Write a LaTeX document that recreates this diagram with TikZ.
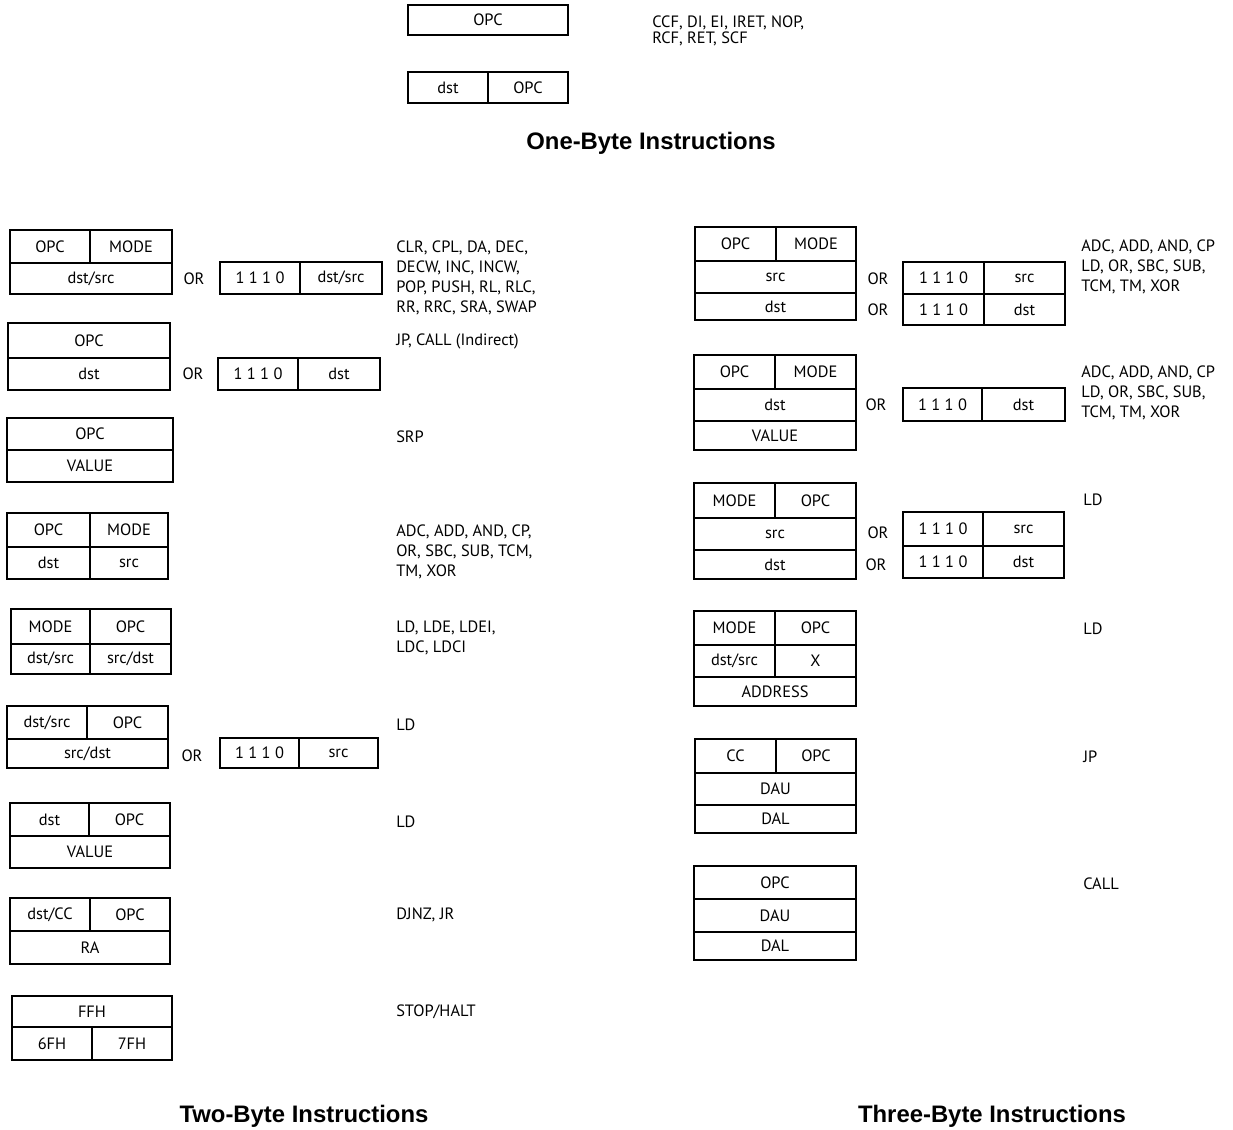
\documentclass[tikz,border=0pt]{standalone}
\usepackage{fontspec}
\setmainfont{PT Sans}
\newfontfamily\titlefont{Liberation Sans}
\newcommand\bodyfont{\fontsize{12.3}{15}\selectfont}
\newcommand\fieldbox[6]{%
  \pgfmathsetmacro\fbw{(#4-#2)*0.75}%
  \pgfmathsetmacro\fbh{(#5-#3)*0.75}%
  \node[fld,minimum width=\fbw pt,minimum height=\fbh pt] (#1) at ({(#2+#4)/2},{(#3+#5)/2}) {#6};}
\tikzset{
  fld/.style={draw, line width=1.5pt, rectangle, inner sep=0pt, outer sep=0pt, font=\bodyfont},
  lbl/.style={anchor=west, inner sep=0pt, align=left, font=\bodyfont},
  orlbl/.style={inner sep=0pt, font=\bodyfont},
  ttl/.style={inner sep=0pt, font=\titlefont\bfseries\fontsize{17.9}{20}\selectfont}
}
\begin{document}
\begin{tikzpicture}[x=0.75pt,y=-0.75pt]
\useasboundingbox (0,0) rectangle (1233,1130);
% ---------- One-byte ----------
\fieldbox{o1}{408}{5}{568}{35}{OPC}
\fieldbox{o2a}{408}{72}{488}{103}{dst}
\fieldbox{o2b}{488}{72}{568}{103}{OPC}
\node[lbl,font=\fontsize{12.3}{12}\selectfont] (to) at (652,31) {CCF, DI, EI, IRET, NOP,\\RCF, RET, SCF};
\node[ttl] (t1) at (651,143) {One-Byte Instructions};
% ---------- Two-byte ----------
\fieldbox{a1a}{10}{230}{90}{263}{OPC}
\fieldbox{a1b}{90}{230}{172}{263}{MODE}
\fieldbox{a1c}{10}{263}{172}{294}{dst/src}
\node[orlbl] (a1or) at (194,279) {OR};
\fieldbox{a1d}{220}{262}{300}{294}{1 1 1 0}
\fieldbox{a1e}{300}{262}{382}{294}{dst/src}
\node[lbl] (ta1) at (396,278) {CLR, CPL, DA, DEC,\\DECW, INC, INCW,\\POP, PUSH, RL, RLC,\\RR, RRC, SRA, SWAP};

\fieldbox{a2a}{8}{323}{170}{358}{OPC}
\fieldbox{a2b}{8}{358}{170}{390}{dst}
\node[orlbl] (a2or) at (193,374) {OR};
\fieldbox{a2c}{218}{358}{298}{390}{1 1 1 0}
\fieldbox{a2d}{298}{358}{380}{390}{dst}
\node[lbl] (ta2) at (396,341) {JP, CALL (Indirect)};

\fieldbox{a3a}{7}{418}{173}{450}{OPC}
\fieldbox{a3b}{7}{450}{173}{482}{VALUE}
\node[lbl] (ta3) at (396,437) {SRP};

\fieldbox{a4a}{7}{513}{90}{547}{OPC}
\fieldbox{a4b}{90}{513}{168}{547}{MODE}
\fieldbox{a4c}{7}{547}{90}{579}{dst}
\fieldbox{a4d}{90}{547}{168}{579}{src}
\node[lbl] (ta4) at (396,552) {ADC, ADD, AND, CP,\\OR, SBC, SUB, TCM,\\TM, XOR};

\fieldbox{a5a}{11}{609}{90}{644}{MODE}
\fieldbox{a5b}{90}{609}{171}{644}{OPC}
\fieldbox{a5c}{11}{644}{90}{674}{dst/src}
\fieldbox{a5d}{90}{644}{171}{674}{src/dst}
\node[lbl] (ta5) at (396,638) {LD, LDE, LDEI,\\LDC, LDCI};

\fieldbox{a6a}{7}{706}{87}{739}{dst/src}
\fieldbox{a6b}{87}{706}{168}{739}{OPC}
\fieldbox{a6c}{7}{739}{168}{768}{src/dst}
\node[orlbl] (a6or) at (192,756) {OR};
\fieldbox{a6d}{220}{738}{299}{768}{1 1 1 0}
\fieldbox{a6e}{299}{738}{378}{768}{src}
\node[lbl] (ta6) at (396,725) {LD};

\fieldbox{a7a}{10}{803}{89}{836}{dst}
\fieldbox{a7b}{89}{803}{170}{836}{OPC}
\fieldbox{a7c}{10}{836}{170}{868}{VALUE}
\node[lbl] (ta7) at (396,822) {LD};

\fieldbox{a8a}{10}{898}{90}{931}{dst/CC}
\fieldbox{a8b}{90}{898}{170}{931}{OPC}
\fieldbox{a8c}{10}{931}{170}{964}{RA}
\node[lbl] (ta8) at (396,915) {DJNZ, JR};

\fieldbox{a9a}{12}{996}{172}{1027}{FFH}
\fieldbox{a9b}{12}{1027}{92}{1060}{6FH}
\fieldbox{a9c}{92}{1027}{172}{1060}{7FH}
\node[lbl] (ta9) at (396,1012) {STOP/HALT};

\node[ttl] (t2) at (304,1116) {Two-Byte Instructions};
% ---------- Three-byte ----------
\fieldbox{b1a}{695}{227}{776}{261}{OPC}
\fieldbox{b1b}{776}{227}{856}{261}{MODE}
\fieldbox{b1c}{695}{261}{856}{293}{src}
\fieldbox{b1d}{695}{293}{856}{320}{dst}
\node[orlbl] (b1or1) at (878,279) {OR};
\node[orlbl] (b1or2) at (878,310) {OR};
\fieldbox{b1e}{903}{262}{984}{294}{1 1 1 0}
\fieldbox{b1f}{984}{262}{1065}{294}{src}
\fieldbox{b1g}{903}{294}{984}{325}{1 1 1 0}
\fieldbox{b1h}{984}{294}{1065}{325}{dst}
\node[lbl] (tb1) at (1081,267) {ADC, ADD, AND, CP\\LD, OR, SBC, SUB,\\TCM, TM, XOR};

\fieldbox{b2a}{694}{355}{775}{389}{OPC}
\fieldbox{b2b}{775}{355}{856}{389}{MODE}
\fieldbox{b2c}{694}{389}{856}{421}{dst}
\fieldbox{b2d}{694}{421}{856}{450}{VALUE}
\node[orlbl] (b2or) at (876,405) {OR};
\fieldbox{b2e}{903}{388}{982}{421}{1 1 1 0}
\fieldbox{b2f}{982}{388}{1065}{421}{dst}
\node[lbl] (tb2) at (1081,393) {ADC, ADD, AND, CP\\LD, OR, SBC, SUB,\\TCM, TM, XOR};

\fieldbox{b3a}{694}{483}{775}{518}{MODE}
\fieldbox{b3b}{775}{483}{856}{518}{OPC}
\fieldbox{b3c}{694}{518}{856}{550}{src}
\fieldbox{b3d}{694}{550}{856}{579}{dst}
\node[orlbl] (b3or1) at (878,533) {OR};
\node[orlbl] (b3or2) at (876,565) {OR};
\fieldbox{b3e}{903}{512}{983}{546}{1 1 1 0}
\fieldbox{b3f}{983}{512}{1064}{546}{src}
\fieldbox{b3g}{903}{546}{983}{578}{1 1 1 0}
\fieldbox{b3h}{983}{546}{1064}{578}{dst}
\node[lbl] (tb3) at (1083,500) {LD};

\fieldbox{b4a}{694}{611}{775}{645}{MODE}
\fieldbox{b4b}{775}{611}{856}{645}{OPC}
\fieldbox{b4c}{694}{645}{775}{677}{dst/src}
\fieldbox{b4d}{775}{645}{856}{677}{X}
\fieldbox{b4e}{694}{677}{856}{706}{ADDRESS}
\node[lbl] (tb4) at (1083,629) {LD};

\fieldbox{b5a}{695}{739}{776}{773}{CC}
\fieldbox{b5b}{776}{739}{856}{773}{OPC}
\fieldbox{b5c}{695}{773}{856}{805}{DAU}
\fieldbox{b5d}{695}{805}{856}{833}{DAL}
\node[lbl] (tb5) at (1083,757) {JP};

\fieldbox{b6a}{694}{866}{856}{899}{OPC}
\fieldbox{b6b}{694}{899}{856}{932}{DAU}
\fieldbox{b6c}{694}{932}{856}{960}{DAL}
\node[lbl] (tb6) at (1083,884) {CALL};

\node[ttl] (t3) at (992,1116) {Three-Byte Instructions};
\end{tikzpicture}
\end{document}
